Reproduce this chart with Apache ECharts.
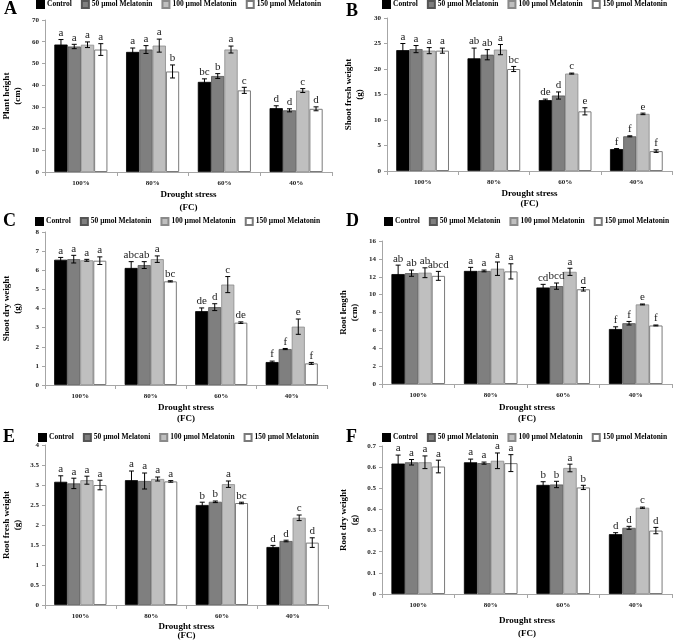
<!DOCTYPE html>
<html><head><meta charset="utf-8">
<script src="https://cdn.jsdelivr.net/npm/echarts@6/dist/echarts.min.js"></script>
<style>html,body{margin:0;padding:0;background:#fff}#c{width:679px;height:641px}</style>
</head><body><div id="c"></div>
<script>
// ---------- DATA ----------
const categories = ['100%', '80%', '60%', '40%'];
const treatments = ['Control', '50 µmol Melatonin', '100 µmol Melatonin', '150 µmol Melatonin'];
const treatmentsE = ['Control', '50 µmol Melatoni', '100 µmol Melatonin', '150 µmol Melatonin'];

// rows: Control, 50, 100, 150 ; columns: 100%, 80%, 60%, 40%
const plantHeight = [[58.7, 55.3, 41.5, 29.4], [57.8, 56.4, 44.2, 28.4], [58.6, 58.2, 56.4, 37.5], [56.4, 46.3, 37.6, 29.1]];
const plantHeightErr = [[2.3, 1.8, 1.4, 1.1], [1.0, 1.8, 1.1, 0.7], [1.3, 3.0, 1.6, 0.9], [2.7, 3.0, 1.4, 0.9]];
const plantHeightLetters = [['a', 'a', 'bc', 'd'], ['a', 'a', 'b', 'd'], ['a', 'a', 'a', 'c'], ['a', 'b', 'c', 'd']];

const shootFresh = [[23.7, 22.1, 13.9, 4.3], [23.9, 22.8, 14.8, 6.8], [23.6, 23.8, 19.1, 11.2], [23.6, 20.0, 11.7, 3.9]];
const shootFreshErr = [[1.3, 2.0, 0.2, 0.1], [0.7, 1.0, 0.7, 0.1], [0.6, 1.0, 0.1, 0.15], [0.5, 0.5, 0.7, 0.25]];
const shootFreshLetters = [['a', 'ab', 'de', 'f'], ['a', 'ab', 'd', 'f'], ['a', 'a', 'c', 'e'], ['a', 'bc', 'e', 'f']];

const shootDry = [[6.55, 6.12, 3.86, 1.2], [6.58, 6.27, 4.07, 1.88], [6.52, 6.58, 5.25, 3.05], [6.5, 5.42, 3.26, 1.13]];
const shootDryErr = [[0.12, 0.33, 0.17, 0.05], [0.2, 0.18, 0.18, 0.03], [0.05, 0.17, 0.42, 0.4], [0.2, 0.03, 0.04, 0.05]];
const shootDryLetters = [['a', 'abc', 'de', 'f'], ['a', 'ab', 'd', 'f'], ['a', 'a', 'c', 'e'], ['a', 'bc', 'de', 'f']];

const rootLength = [[12.3, 12.65, 10.8, 6.15], [12.4, 12.65, 10.95, 6.8], [12.45, 12.9, 12.55, 8.9], [12.1, 12.6, 10.6, 6.55]];
const rootLengthErr = [[1.0, 0.4, 0.35, 0.25], [0.35, 0.1, 0.35, 0.2], [0.55, 0.75, 0.4, 0.05], [0.5, 0.85, 0.2, 0.05]];
const rootLengthLetters = [['ab', 'a', 'cd', 'f'], ['ab', 'a', 'bcd', 'f'], ['ab', 'a', 'a', 'e'], ['abcd', 'a', 'd', 'f']];

const rootFresh = [[3.08, 3.12, 2.5, 1.45], [3.04, 3.1, 2.58, 1.6], [3.12, 3.15, 3.02, 2.18], [3.0, 3.09, 2.55, 1.56]];
const rootFreshErr = [[0.15, 0.23, 0.07, 0.04], [0.13, 0.2, 0.02, 0.02], [0.1, 0.05, 0.08, 0.07], [0.12, 0.02, 0.02, 0.12]];
const rootFreshLetters = [['a', 'a', 'b', 'd'], ['a', 'a', 'b', 'd'], ['a', 'a', 'a', 'c'], ['a', 'a', 'bc', 'd']];

const rootDry = [[0.617, 0.623, 0.516, 0.283], [0.623, 0.619, 0.518, 0.313], [0.623, 0.63, 0.596, 0.408], [0.603, 0.619, 0.504, 0.3]];
const rootDryErr = [[0.04, 0.015, 0.015, 0.007], [0.013, 0.005, 0.015, 0.007], [0.03, 0.037, 0.018, 0.003], [0.03, 0.04, 0.01, 0.015]];
const rootDryLetters = [['a', 'a', 'b', 'd'], ['a', 'a', 'b', 'd'], ['a', 'a', 'a', 'c'], ['a', 'a', 'b', 'd']];

// ---------- LAYOUT / STYLE ----------
const FONT = '"Liberation Serif","Times New Roman",serif';
const GAP = 0.26;
const barStyles = [
  { color: '#000000', borderColor: '#000000', borderWidth: 0.8 },
  { color: '#7f7f7f', borderColor: '#555555', borderWidth: 0.8 },
  { color: '#bfbfbf', borderColor: '#8a8a8a', borderWidth: 0.8 },
  { color: '#ffffff', borderColor: '#7a7a7a', borderWidth: 1 }
];

const panels = [
  { tag: 'A', vals: plantHeight, err: plantHeightErr, letters: plantHeightLetters, names: treatments,
    yName: 'Plant height\n(cm)', max: 70, interval: 10,
    grid: { left: 39, top: 20, width: 293, height: 152 }, title: [4, 0], legend: [36, 0], xNameGap: 8, xNameLH: 13 },
  { tag: 'B', vals: shootFresh, err: shootFreshErr, letters: shootFreshLetters, names: treatments,
    yName: 'Shoot fresh weight\n(g)', max: 30, interval: 5,
    grid: { left: 387, top: 18, width: 285, height: 153 }, title: [346, 2], legend: [382, 0], xNameGap: 18, xNameLH: 10 },
  { tag: 'C', vals: shootDry, err: shootDryErr, letters: shootDryLetters, names: treatments,
    yName: 'Shoot dry weight\n(g)', max: 8, interval: 1,
    grid: { left: 39, top: 232, width: 288, height: 153 }, title: [3, 212], legend: [35, 217], xNameGap: 17, xNameLH: 11 },
  { tag: 'D', vals: rootLength, err: rootLengthErr, letters: rootLengthLetters, names: treatments,
    yName: 'Root length\n(cm)', max: 16, interval: 2,
    grid: { left: 382, top: 241, width: 290, height: 143 }, title: [346, 212], legend: [384, 217], xNameGap: 18, xNameLH: 11 },
  { tag: 'E', vals: rootFresh, err: rootFreshErr, letters: rootFreshLetters, names: treatmentsE,
    yName: 'Root fresh weight\n(g)', max: 4, interval: 0.5,
    grid: { left: 39, top: 445, width: 289, height: 160 }, title: [3, 428], legend: [38, 433], xNameGap: 17, xNameLH: 9 },
  { tag: 'F', vals: rootDry, err: rootDryErr, letters: rootDryLetters, names: treatments,
    yName: 'Root dry weight\n(g)', max: 0.7, interval: 0.1,
    grid: { left: 382, top: 446, width: 290, height: 158 }, title: [346, 428], legend: [382, 433], xNameGap: 20, xNameLH: 13 }
];

function makeRender(letters) {
  return function (params, api) {
    const c = api.value(0), v = api.value(1), e = api.value(2), t = api.value(3);
    const center = api.coord([c, v]);
    const band = api.size([1, 0])[0];
    const gw = band * (1 - GAP);
    const bw = gw / 4;
    const x = center[0] - gw / 2 + (t + 0.5) * bw;
    const yTop = api.coord([c, v + e])[1];
    const yBot = api.coord([c, v - e])[1];
    const cap = 2.5;
    const st = { stroke: '#000', lineWidth: 1 };
    return {
      type: 'group', children: [
        { type: 'line', shape: { x1: x, y1: yTop, x2: x, y2: yBot }, style: st },
        { type: 'line', shape: { x1: x - cap, y1: yTop, x2: x + cap, y2: yTop }, style: st },
        { type: 'line', shape: { x1: x - cap, y1: yBot, x2: x + cap, y2: yBot }, style: st },
        { type: 'text', x: x, y: yTop - 1, style: { text: letters[t][c], align: 'center', verticalAlign: 'bottom', font: '11px ' + FONT, fill: '#222' } }
      ]
    };
  };
}

const option = { animation: false, backgroundColor: '#fff', grid: [], xAxis: [], yAxis: [], series: [], legend: [], title: [] };

panels.forEach((p, i) => {
  option.grid.push(Object.assign({ containLabel: false }, p.grid));
  option.title.push({ text: p.tag, left: p.title[0], top: p.title[1], padding: 0,
    textStyle: { fontFamily: FONT, fontSize: 18, fontWeight: 'bold', color: '#000' } });
  option.legend.push({ left: p.legend[0], top: p.legend[1], padding: 0, itemWidth: 7, itemHeight: 7, itemGap: 9,
    icon: 'rect', data: p.names, selectedMode: false, orient: 'horizontal', width: 300,
    textStyle: { fontFamily: FONT, fontSize: 7.5, fontWeight: 'bold', color: '#000', padding: [0, 0, 0, -2] } });
  option.xAxis.push({ type: 'category', gridIndex: i, data: categories,
    axisLine: { lineStyle: { color: '#a6a6a6' } },
    axisTick: { show: true, length: 4, lineStyle: { color: '#a6a6a6' } },
    axisLabel: { fontFamily: FONT, fontSize: 7, fontWeight: 'bold', color: '#222', margin: 8 },
    name: 'Drought stress\n(FC)', nameLocation: 'middle', nameGap: p.xNameGap,
    nameTextStyle: { fontFamily: FONT, fontSize: 9, fontWeight: 'bold', color: '#000', lineHeight: p.xNameLH, verticalAlign: 'top' } });
  option.yAxis.push({ type: 'value', gridIndex: i, min: 0, max: p.max, interval: p.interval,
    axisLine: { show: true, lineStyle: { color: '#a6a6a6' } },
    axisTick: { show: true, length: 3, lineStyle: { color: '#a6a6a6' } },
    splitLine: { show: false },
    axisLabel: { fontFamily: FONT, fontSize: 7, fontWeight: 'bold', color: '#222', margin: 6 },
    name: p.yName, nameLocation: 'middle', nameRotate: 90, nameGap: 22,
    nameTextStyle: { fontFamily: FONT, fontSize: 9, fontWeight: 'bold', color: '#000', lineHeight: 11 } });
  p.vals.forEach((row, t) => {
    option.series.push({ type: 'bar', name: p.names[t], xAxisIndex: i, yAxisIndex: i, data: row,
      barGap: '0%', barCategoryGap: (GAP * 100) + '%', itemStyle: barStyles[t], z: 2 });
  });
  const ed = [];
  p.vals.forEach((row, t) => row.forEach((v, c) => ed.push([c, v, p.err[t][c], t])));
  option.series.push({ type: 'custom', xAxisIndex: i, yAxisIndex: i, data: ed, renderItem: makeRender(p.letters),
    clip: false, z: 5, silent: true, encode: { x: 0, y: 1 } });
});

const chart = echarts.init(document.getElementById('c'), null, { renderer: 'canvas' });
chart.setOption(option);
</script></body></html>
